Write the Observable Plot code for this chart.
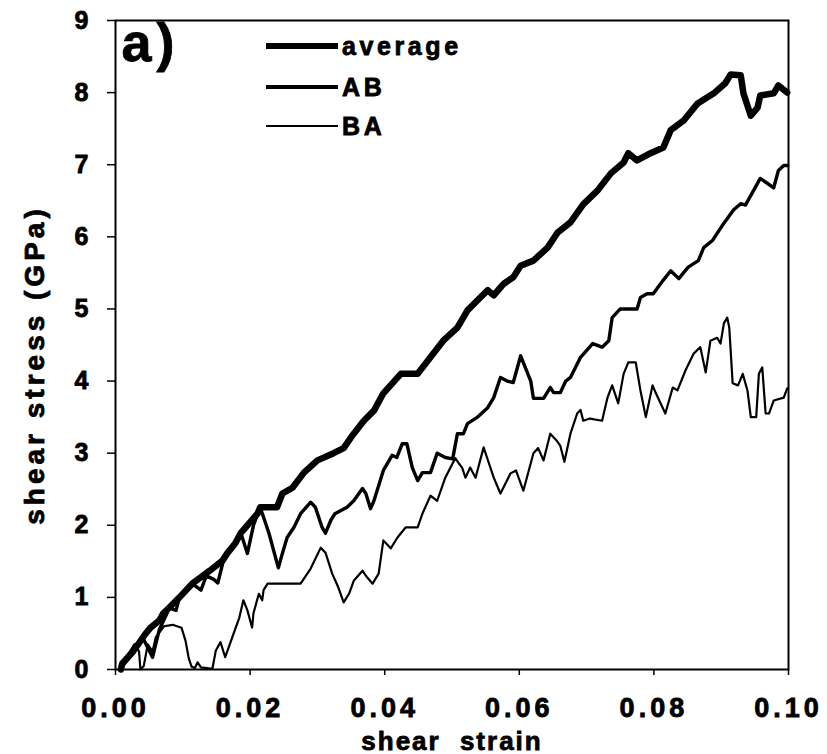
<!DOCTYPE html>
<html><head><meta charset="utf-8">
<script src="https://cdn.jsdelivr.net/npm/d3@7"></script>
<script src="https://cdn.jsdelivr.net/npm/@observablehq/plot@0.6"></script>
<style>
body{margin:0;background:#fff;}
#wrap{position:relative;width:827px;height:754px;font-family:"Liberation Sans",Arial,sans-serif;}
#wrap svg text{font-family:"Liberation Sans",Arial,sans-serif;font-weight:bold;stroke:#000;stroke-width:0.8px;}
g[aria-label="x-axis tick label"] text{letter-spacing:4px;}
g[aria-label="y-axis tick label"] text{letter-spacing:1px;}
g[aria-label="x-axis label"] text{font-size:26px;letter-spacing:2px;word-spacing:10px;}
.ylab{letter-spacing:4px;}
#legend{position:absolute;left:0;top:0;width:827px;height:754px;pointer-events:none;}
.row{position:absolute;left:266px;display:flex;align-items:center;}
.sw{width:72px;background:#000;}
.lab{font-weight:bold;font-size:25px;letter-spacing:3.6px;margin-left:4px;color:#000;line-height:1;-webkit-text-stroke:0.8px #000;}
</style>
</head><body>
<div id="wrap"></div>
<script>
const seriesNames = ["average", "AB", "BA"];
const xTicks = [0, 0.02, 0.04, 0.06, 0.08, 0.10];
const yTicks = [0, 1, 2, 3, 4, 5, 6, 7, 8, 9];
const xTitle = "shear strain";
const yTitle = "shear stress (GPa)";
const panelLabel = "a)";

const average = [[0.0008,0.0],[0.001,0.08],[0.0027,0.26],[0.0045,0.5],[0.0052,0.58],[0.0065,0.68],[0.0071,0.78],[0.008,0.86],[0.0095,1.0],[0.0114,1.19],[0.014,1.37],[0.0159,1.51],[0.0166,1.61],[0.0178,1.75],[0.0186,1.89],[0.0211,2.16],[0.0215,2.25],[0.024,2.25],[0.0248,2.44],[0.0263,2.52],[0.028,2.73],[0.030,2.9],[0.0324,3.0],[0.0339,3.07],[0.035,3.22],[0.0369,3.45],[0.0384,3.59],[0.0398,3.83],[0.0424,4.1],[0.0449,4.1],[0.0468,4.33],[0.0487,4.56],[0.0508,4.74],[0.0523,4.98],[0.0538,5.12],[0.0553,5.26],[0.0562,5.19],[0.0577,5.35],[0.0591,5.44],[0.0602,5.6],[0.0621,5.67],[0.0642,5.85],[0.0657,6.06],[0.0676,6.2],[0.0695,6.45],[0.0716,6.64],[0.0736,6.88],[0.0755,7.03],[0.0762,7.16],[0.0775,7.06],[0.0795,7.16],[0.0814,7.24],[0.0825,7.48],[0.0844,7.61],[0.0865,7.85],[0.0889,7.99],[0.0906,8.13],[0.0914,8.25],[0.0929,8.24],[0.0933,7.99],[0.0944,7.68],[0.0954,7.79],[0.0958,7.96],[0.0978,7.99],[0.0985,8.1],[0.0998,8.0]];

const ab = [[0.0008,0],[0.002,0.2],[0.004,0.45],[0.0055,0.17],[0.0065,0.55],[0.008,0.85],[0.009,0.82],[0.0095,1.0],[0.0114,1.19],[0.0127,1.1],[0.0135,1.3],[0.0146,1.25],[0.0152,1.2],[0.016,1.5],[0.0178,1.75],[0.0186,1.9],[0.0196,1.61],[0.0205,2.0],[0.0215,2.25],[0.0228,1.89],[0.0242,1.41],[0.0248,1.61],[0.0255,1.83],[0.0265,1.97],[0.0275,2.16],[0.029,2.32],[0.0297,2.25],[0.0307,1.97],[0.0312,1.89],[0.032,2.07],[0.0326,2.16],[0.0344,2.25],[0.0354,2.34],[0.0367,2.51],[0.0372,2.44],[0.0379,2.23],[0.0384,2.34],[0.0398,2.76],[0.0411,2.97],[0.0418,2.94],[0.0426,3.13],[0.0433,3.13],[0.0441,2.8],[0.0449,2.62],[0.0456,2.73],[0.0468,2.73],[0.0478,3.0],[0.049,2.94],[0.0501,2.92],[0.0508,3.27],[0.0517,3.27],[0.0523,3.41],[0.0538,3.5],[0.0553,3.63],[0.0562,3.77],[0.0572,4.05],[0.0582,4.0],[0.0591,3.98],[0.0602,4.35],[0.0617,4.0],[0.0621,3.76],[0.0636,3.76],[0.0646,3.91],[0.0651,3.84],[0.0661,3.84],[0.0669,4.0],[0.0676,4.05],[0.0691,4.33],[0.0709,4.52],[0.0723,4.47],[0.0733,4.56],[0.0738,4.88],[0.075,5.0],[0.0775,5.0],[0.078,5.16],[0.079,5.21],[0.0799,5.21],[0.0814,5.4],[0.0825,5.53],[0.0837,5.42],[0.0851,5.58],[0.0866,5.67],[0.0874,5.85],[0.0887,5.95],[0.0904,6.19],[0.0918,6.37],[0.0929,6.46],[0.0936,6.44],[0.0948,6.64],[0.0958,6.81],[0.0969,6.74],[0.0978,6.68],[0.0985,6.92],[0.0993,6.99],[0.0999,6.99]];

const ba = [[0.0005,0],[0.0015,0.15],[0.0028,0.35],[0.0035,0.25],[0.0037,0.0],[0.0042,0.05],[0.0048,0.35],[0.0055,0.25],[0.006,0.45],[0.0072,0.6],[0.0085,0.62],[0.0098,0.58],[0.0104,0.4],[0.0109,0.15],[0.0113,0.04],[0.0118,0.02],[0.0122,0.1],[0.0127,0.03],[0.0144,0.01],[0.0149,0.26],[0.0156,0.38],[0.0163,0.17],[0.0174,0.46],[0.0184,0.72],[0.019,0.96],[0.0196,0.82],[0.0203,0.58],[0.0205,0.78],[0.0213,1.05],[0.0218,0.96],[0.022,1.1],[0.0226,1.19],[0.0253,1.19],[0.0275,1.19],[0.029,1.4],[0.0305,1.69],[0.0312,1.62],[0.0322,1.33],[0.0331,1.14],[0.0339,0.93],[0.0347,1.05],[0.0354,1.23],[0.0367,1.37],[0.0372,1.3],[0.0382,1.19],[0.0391,1.33],[0.0398,1.79],[0.0409,1.68],[0.0419,1.83],[0.0431,1.97],[0.0449,1.97],[0.0456,2.16],[0.0468,2.41],[0.0478,2.34],[0.049,2.66],[0.0501,2.86],[0.0505,2.93],[0.051,2.86],[0.0515,2.8],[0.052,2.66],[0.0527,2.8],[0.0535,2.66],[0.0547,3.08],[0.0552,2.94],[0.0562,2.66],[0.0572,2.44],[0.0587,2.72],[0.0595,2.76],[0.0606,2.48],[0.0621,3.0],[0.0628,3.07],[0.0636,2.9],[0.0646,3.27],[0.0655,3.18],[0.0661,3.1],[0.0667,2.88],[0.0676,3.27],[0.0686,3.55],[0.0691,3.6],[0.0695,3.45],[0.0705,3.48],[0.0723,3.45],[0.0731,3.77],[0.0738,3.94],[0.0747,3.69],[0.0755,4.1],[0.0762,4.26],[0.0773,4.26],[0.078,3.87],[0.0788,3.5],[0.0798,3.94],[0.0803,3.83],[0.0817,3.55],[0.0828,3.91],[0.0835,3.87],[0.0847,4.15],[0.0859,4.38],[0.0869,4.47],[0.0877,4.12],[0.0884,4.56],[0.0894,4.6],[0.0899,4.52],[0.0904,4.8],[0.0909,4.88],[0.0912,4.74],[0.0917,3.97],[0.0925,3.94],[0.0932,4.1],[0.0939,3.87],[0.0944,3.5],[0.0952,3.5],[0.0956,4.1],[0.0961,4.19],[0.0966,3.55],[0.0971,3.55],[0.0978,3.73],[0.0993,3.77],[0.0998,3.9]];

const toRows = (arr, name) => arr.map(([x, y]) => ({strain: x, stress: y, series: name}));

const chart = Plot.plot({
  width: 827,
  height: 754,
  marginLeft: 115,
  marginRight: 39,
  marginTop: 20,
  marginBottom: 85,
  style: {background: "#fff", color: "#000", fontFamily: "Liberation Sans, Arial, sans-serif"},
  x: {domain: [0, 0.1]},
  y: {domain: [0, 9]},
  marks: [
    Plot.axisX({ticks: xTicks, tickFormat: d => d.toFixed(2), tickSize: 6, tickPadding: 22, fontSize: 27, fontWeight: "bold",
      label: xTitle, labelAnchor: "center", labelOffset: 80, labelArrow: false, strokeWidth: 1.5}),
    Plot.axisY({ticks: yTicks, tickFormat: d => String(d), tickSize: 8, tickPadding: 18, fontSize: 25, fontWeight: "bold",
      label: null, strokeWidth: 1.5}),
    Plot.text([yTitle], {frameAnchor: "left", rotate: -90, dx: -80, dy: 20, text: d => d, fontSize: 28, fontWeight: "bold",
      textAnchor: "middle", lineAnchor: "middle", fill: "#000", className: "ylab"}),
    Plot.frame({stroke: "#000", strokeWidth: 2}),
    Plot.line(toRows(ba, "BA"), {x: "strain", y: "stress", stroke: "#000", strokeWidth: 2.2, strokeLinejoin: "round"}),
    Plot.line(toRows(ab, "AB"), {x: "strain", y: "stress", stroke: "#000", strokeWidth: 3.4, strokeLinejoin: "round"}),
    Plot.line(toRows(average, "average"), {x: "strain", y: "stress", stroke: "#000", strokeWidth: 6.5, strokeLinejoin: "round"}),
    Plot.text([panelLabel], {frameAnchor: "top-left", dx: 6, dy: 2, text: d => d, fontSize: 54, fontWeight: "bold", textAnchor: "start", lineAnchor: "top", fill: "#000", className: "plab"})
  ]
});
const wrap = document.getElementById("wrap");
wrap.appendChild(chart);
const st = document.createElement("style");
st.textContent = ".plab text{letter-spacing:5px;} .ylab text{letter-spacing:4px;}";
document.head.appendChild(st);

const legendDiv = document.createElement("div");
legendDiv.id = "legend";
const rows = [
  {name: seriesNames[0], top: 32, h: 6.5},
  {name: seriesNames[1], top: 73, h: 3.6},
  {name: seriesNames[2], top: 112, h: 2.2}
];
for (const r of rows) {
  const row = document.createElement("div");
  row.className = "row";
  row.style.top = r.top + "px";
  row.style.height = "28px";
  const sw = document.createElement("div");
  sw.className = "sw";
  sw.style.height = r.h + "px";
  const lab = document.createElement("span");
  lab.className = "lab";
  lab.textContent = r.name;
  row.appendChild(sw);
  row.appendChild(lab);
  legendDiv.appendChild(row);
}
wrap.appendChild(legendDiv);
</script>
</body></html>
